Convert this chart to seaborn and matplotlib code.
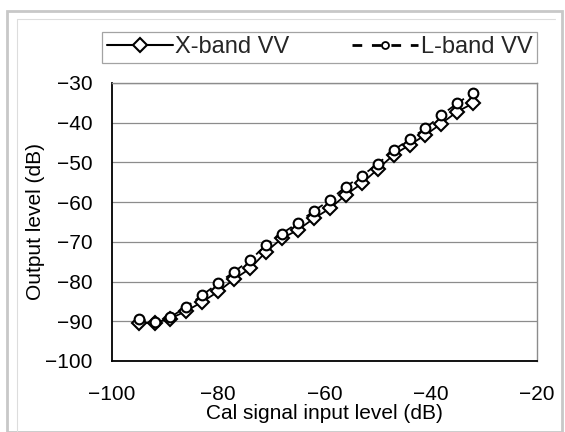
import matplotlib
matplotlib.use("Agg")
import matplotlib.pyplot as plt
import seaborn as sns
import pandas as pd
from matplotlib.lines import Line2D
from matplotlib.patches import Rectangle

# ---- data ----
input_level = [-95, -92, -89, -86, -83, -80, -77, -74, -71, -68, -65,
               -62, -59, -56, -53, -50, -47, -44, -41, -38, -35, -32]
xband_vv = [-90.4, -90.4, -89.3, -87.4, -85.1, -82.5, -79.4, -76.7, -72.5, -69.1, -67.0,
            -64.1, -61.6, -58.2, -55.3, -51.7, -48.1, -45.6, -43.1, -40.2, -37.2, -35.1]
lband_vv = [-89.5, -90.1, -89.0, -86.3, -83.4, -80.4, -77.5, -74.6, -70.8, -67.9, -65.2,
            -62.2, -59.5, -56.1, -53.4, -50.4, -46.9, -44.2, -41.4, -38.1, -35.1, -32.4]
series_names = ["X-band VV", "L-band VV"]
x_ticks = [-100, -80, -60, -40, -20]
y_ticks = [-100, -90, -80, -70, -60, -50, -40, -30]

sns.set_theme(style="white")
plt.rcParams['font.family'] = ['Liberation Sans', 'DejaVu Sans']
plt.rcParams['axes.unicode_minus'] = True

df_x = pd.DataFrame({"x": input_level, "y": xband_vv})
df_l = pd.DataFrame({"x": input_level, "y": lband_vv})

fig = plt.figure(figsize=(5.65, 4.32), dpi=100)
ax = fig.add_axes([112/565, 1-361/432, (537-112)/565, (361-83)/432])

sns.lineplot(data=df_x, x="x", y="y", ax=ax, color="black", lw=1.3,
             marker="D", markersize=6.8, markerfacecolor="white",
             markeredgecolor="black", markeredgewidth=1.5, linestyle="-")
sns.lineplot(data=df_l, x="x", y="y", ax=ax, color="black", lw=1.3,
             marker="o", markersize=7, markerfacecolor="white",
             markeredgecolor="black", markeredgewidth=1.5, linestyle=(0, (4, 3)))

ax.set_xlim(-100, -20)
ax.set_ylim(-100, -30)
ax.set_xticks(x_ticks)
ax.set_yticks(y_ticks)
ax.yaxis.grid(True, color="#8c8c8c", lw=0.9)
ax.xaxis.grid(False)
ax.tick_params(axis="x", direction="in", length=4, width=0.8,
               labelsize=15, colors="black", pad=17)
ax.tick_params(axis="y", direction="in", length=0,
               labelsize=15, colors="black", pad=14)
for s in ["left", "bottom"]:
    ax.spines[s].set_color("black")
    ax.spines[s].set_linewidth(1.3)
for s in ["top", "right"]:
    ax.spines[s].set_color("#8c8c8c")
    ax.spines[s].set_linewidth(1.0)

ax.set_xlabel("Cal signal input level (dB)", fontsize=15, labelpad=0, color="black")
ax.set_ylabel("Output level (dB)", fontsize=15, labelpad=0, color="black")

handles = [
    Line2D([], [], color="black", lw=1.5, marker="D", markersize=7,
           markerfacecolor="white", markeredgecolor="black", markeredgewidth=1.5),
    Line2D([], [], color="black", lw=2.0, linestyle=(0, (3.5, 3.5)), marker="o", markersize=5,
           markerfacecolor="white", markeredgecolor="black", markeredgewidth=1.3),
]
leg = fig.legend(handles, series_names, loc="lower left",
                 bbox_to_anchor=(102/565, 1-63/432, (537-102)/565, 35/432),
                 mode="expand", ncol=2, fontsize=17, frameon=True, fancybox=False,
                 handlelength=2.8, handletextpad=0.1, columnspacing=1.5,
                 borderpad=0.2, borderaxespad=0)
leg.get_frame().set_edgecolor("#8c8c8c")
leg.get_frame().set_linewidth(0.9)

# outer chart frame
fig.patches.append(Rectangle((7/565, 0), (562-7)/565, 1-11/432, transform=fig.transFigure,
                             fill=False, edgecolor="#c8c8c8", lw=2.0))
fig.lines.append(Line2D([17/565, 17/565], [0, 1-19/432], transform=fig.transFigure,
                        color="#dddddd", lw=0.8))
fig.lines.append(Line2D([17/565, 555/565], [1-19/432, 1-19/432], transform=fig.transFigure,
                        color="#dddddd", lw=0.8))

fig.savefig("out.png", dpi=100)
